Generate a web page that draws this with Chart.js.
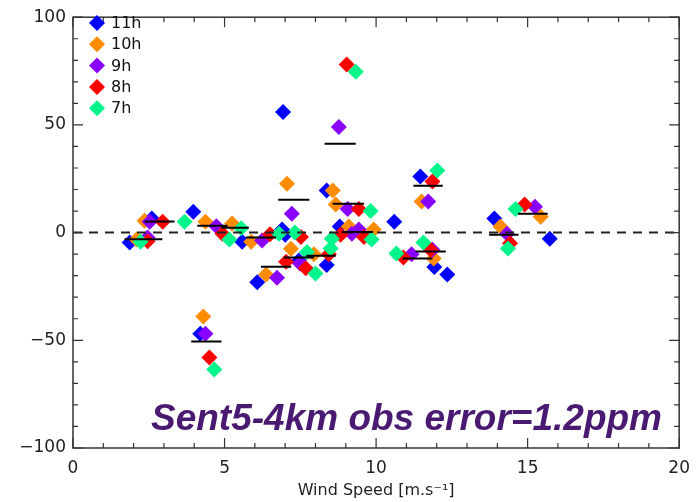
<!DOCTYPE html>
<html>
<head>
<meta charset="utf-8">
<script src="https://cdn.jsdelivr.net/npm/chart.js@4/dist/chart.umd.min.js"></script>
<style>
html,body{margin:0;padding:0;background:#fff;}
#wrap{width:700px;height:502px;position:relative;}
</style>
</head>
<body>
<div id="wrap"><canvas id="c" width="700" height="502"></canvas></div>
<script>
// ---- data (wind speed [m/s], error) ----
const seriesNames = ['11h', '10h', '9h', '8h', '7h'];
const seriesColors = ['#0000FF', '#FF8C00', '#8A00FF', '#FF0000', '#00F58A'];

const x11 = [1.87, 2.6, 3.97, 4.2, 5.58, 6.08, 6.93, 6.9, 7.0, 7.45, 8.37, 8.37, 8.8, 10.6, 11.46, 11.92, 12.35, 13.9, 15.73];
const y11 = [-4.6, 6.5, 9.7, -47, -4.2, -23, 56, 1.4, -1, -13, 19.5, -15, 2.8, 5, 26, -16, -19.5, 6.5, -2.8];

const x10 = [2.1, 2.36, 4.3, 4.37, 5.25, 5.88, 7.06, 7.19, 6.37, 7.95, 8.57, 8.67, 9.1, 9.92, 11.5, 11.9, 14.1, 15.43];
const y10 = [-3.2, 5.5, -39, 5, 4.2, -4.2, 22.7, -7.5, -19.5, -10, 19.5, 13, 2.8, 1.4, 14.4, -12, 2.8, 7.4];

const x9 = [2.53, 2.46, 4.37, 4.73, 6.24, 7.22, 6.73, 7.49, 8.77, 9.06, 9.2, 9.43, 11.72, 11.17, 11.86, 15.24, 14.32];
const y9 = [5, -2.3, -47, 3, -3.7, 8.8, -21, -14.4, 49, 11, -0.5, 1.4, 14.4, -10, -8, 12, -0.5];

const x8 = [2.96, 2.46, 4.5, 4.93, 6.5, 7.03, 7.52, 7.68, 8.44, 8.83, 9.43, 9.6, 9.03, 11.86, 10.9, 11.8, 14.9, 14.42];
const y8 = [5, -4, -58, -0.5, -0.8, -13.5, -2, -16.5, -10, -1, 11, -2, 78, 23.7, -11.6, -8, 13, -5];

const x7 = [2.23, 3.68, 4.66, 5.16, 5.55, 6.8, 7.32, 7.72, 8.0, 8.54, 8.5, 9.82, 9.85, 9.33, 12.02, 10.67, 11.56, 14.6, 14.35];
const y7 = [-4.2, 5, -63.5, -3.2, 2, -0.5, 0, -9, -19, -2.8, -7.4, 10, -3.2, 74.7, 28.8, -9.7, -4.6, 11, -7.4];

// mean bars: start x, end x, value
const meanX0 = [1.7, 2.36, 3.9, 4.1, 4.9, 5.7, 6.2, 6.77, 6.96, 7.7, 8.3, 8.57, 8.87, 11.23, 11.3, 10.87, 14.68, 13.73];
const meanX1 = [2.95, 3.35, 4.9, 5.1, 5.8, 6.7, 7.2, 7.8, 7.95, 8.67, 9.33, 9.6, 9.9, 12.2, 12.3, 11.86, 15.66, 14.7];
const meanY  = [-3.1, 5.1, -50.5, 3.2, 2.3, -2.3, -15.8, 15.3, -11.6, -10.7, 41.3, 13.4, 0.3, 21.8, -8.8, -12, 8.8, -1];

const xTicks = [0, 5, 10, 15, 20];
const yTicks = [-100, -50, 0, 50, 100];
const xTitle = 'Wind Speed [m.s\u207B\u00B9]';
const annotation = 'Sent5-4km obs error=1.2ppm';

// ---- build datasets ----
const xs = [x11, x10, x9, x8, x7];
const ys = [y11, y10, y9, y8, y7];
const datasets = seriesNames.map((name, i) => ({
  type: 'scatter',
  label: name,
  data: xs[i].map((x, j) => ({x: x, y: ys[i][j]})),
  backgroundColor: seriesColors[i],
  borderWidth: 0,
  pointStyle: 'rectRot',
  pointRadius: 8,
  pointHoverRadius: 8,
  order: 10 - i
}));

const meanData = [];
meanX0.forEach((x0, i) => {
  meanData.push({x: x0, y: meanY[i]});
  meanData.push({x: meanX1[i], y: meanY[i]});
  meanData.push({x: meanX1[i], y: null});
});
datasets.push({
  type: 'line', label: 'mean', data: meanData, borderColor: '#000', borderWidth: 2,
  pointRadius: 0, fill: false, spanGaps: false, tension: 0, order: 0
});
datasets.push({
  type: 'line', label: 'zero',
  data: [{x: xTicks[0], y: 0}, {x: xTicks[xTicks.length - 1], y: 0}],
  borderColor: '#222', borderWidth: 2, borderDash: [9, 7], pointRadius: 0, fill: false, order: 1
});

const FONT = '"DejaVu Sans", Verdana, sans-serif';

// ---- plugins ----
const framePlugin = {
  id: 'frame',
  afterDraw(chart) {
    const {ctx, chartArea: a, scales: {x, y}} = chart;
    ctx.save();
    ctx.strokeStyle = '#333';
    ctx.lineWidth = 1.5;
    ctx.strokeRect(a.left, a.top, a.right - a.left, a.bottom - a.top);
    ctx.lineWidth = 1.2;
    ctx.beginPath();
    for (let v = x.min; v <= x.max + 1e-9; v += 1) {
      const px = x.getPixelForValue(v);
      const len = (Math.round(v) % 5 === 0) ? 10 : 5;
      ctx.moveTo(px, a.bottom); ctx.lineTo(px, a.bottom - len);
      ctx.moveTo(px, a.top); ctx.lineTo(px, a.top + len);
    }
    for (let v = y.min; v <= y.max + 1e-9; v += 10) {
      const py = y.getPixelForValue(v);
      const len = (Math.round(v) % 50 === 0) ? 10 : 5;
      ctx.moveTo(a.left, py); ctx.lineTo(a.left + len, py);
      ctx.moveTo(a.right, py); ctx.lineTo(a.right - len, py);
    }
    ctx.stroke();

    // legend
    ctx.textBaseline = 'middle';
    ctx.textAlign = 'left';
    seriesNames.forEach((n, i) => {
      const ly = 23 + i * 21.3;
      ctx.fillStyle = seriesColors[i];
      ctx.beginPath();
      Chart.helpers.drawPoint(ctx, {pointStyle: 'rectRot', radius: 8, borderWidth: 0}, 97, ly);
      ctx.fillStyle = '#111';
      ctx.font = '16px ' + FONT;
      ctx.fillText(n, 111, ly + 1);
    });

    // annotation
    ctx.font = 'italic bold 37px "Liberation Sans", Arial, sans-serif';
    ctx.fillStyle = '#4A1A73';
    ctx.textAlign = 'right';
    ctx.textBaseline = 'alphabetic';
    ctx.fillText(annotation, 662, 430);
    ctx.restore();
  }
};

new Chart(document.getElementById('c'), {
  type: 'scatter',
  data: {datasets},
  plugins: [framePlugin],
  options: {
    responsive: false,
    animation: false,
    events: [],
    layout: {padding: {left: 0, right: 18, top: 15, bottom: 0}},
    plugins: {legend: {display: false}, tooltip: {enabled: false}},
    scales: {
      x: {
        type: 'linear', min: xTicks[0], max: xTicks[xTicks.length - 1],
        afterBuildTicks: s => { s.ticks = xTicks.map(v => ({value: v})); },
        afterFit: s => { s.height = 54; },
        grid: {display: false, drawTicks: false},
        border: {display: false},
        ticks: {padding: 10, color: '#222', font: {family: FONT, size: 17}, maxRotation: 0},
        title: {display: true, text: xTitle, color: '#222', padding: {top: 0, bottom: 2},
                font: {family: FONT, size: 16}}
      },
      y: {
        type: 'linear', min: yTicks[0], max: yTicks[yTicks.length - 1],
        afterBuildTicks: s => { s.ticks = yTicks.map(v => ({value: v})); },
        afterFit: s => { s.width = 73; },
        grid: {display: false, drawTicks: false},
        border: {display: false},
        ticks: {padding: 7, color: '#222', font: {family: FONT, size: 17},
                callback: v => (v < 0 ? '\u2212' + Math.abs(v) : String(v))}
      }
    }
  }
});
</script>
</body>
</html>
